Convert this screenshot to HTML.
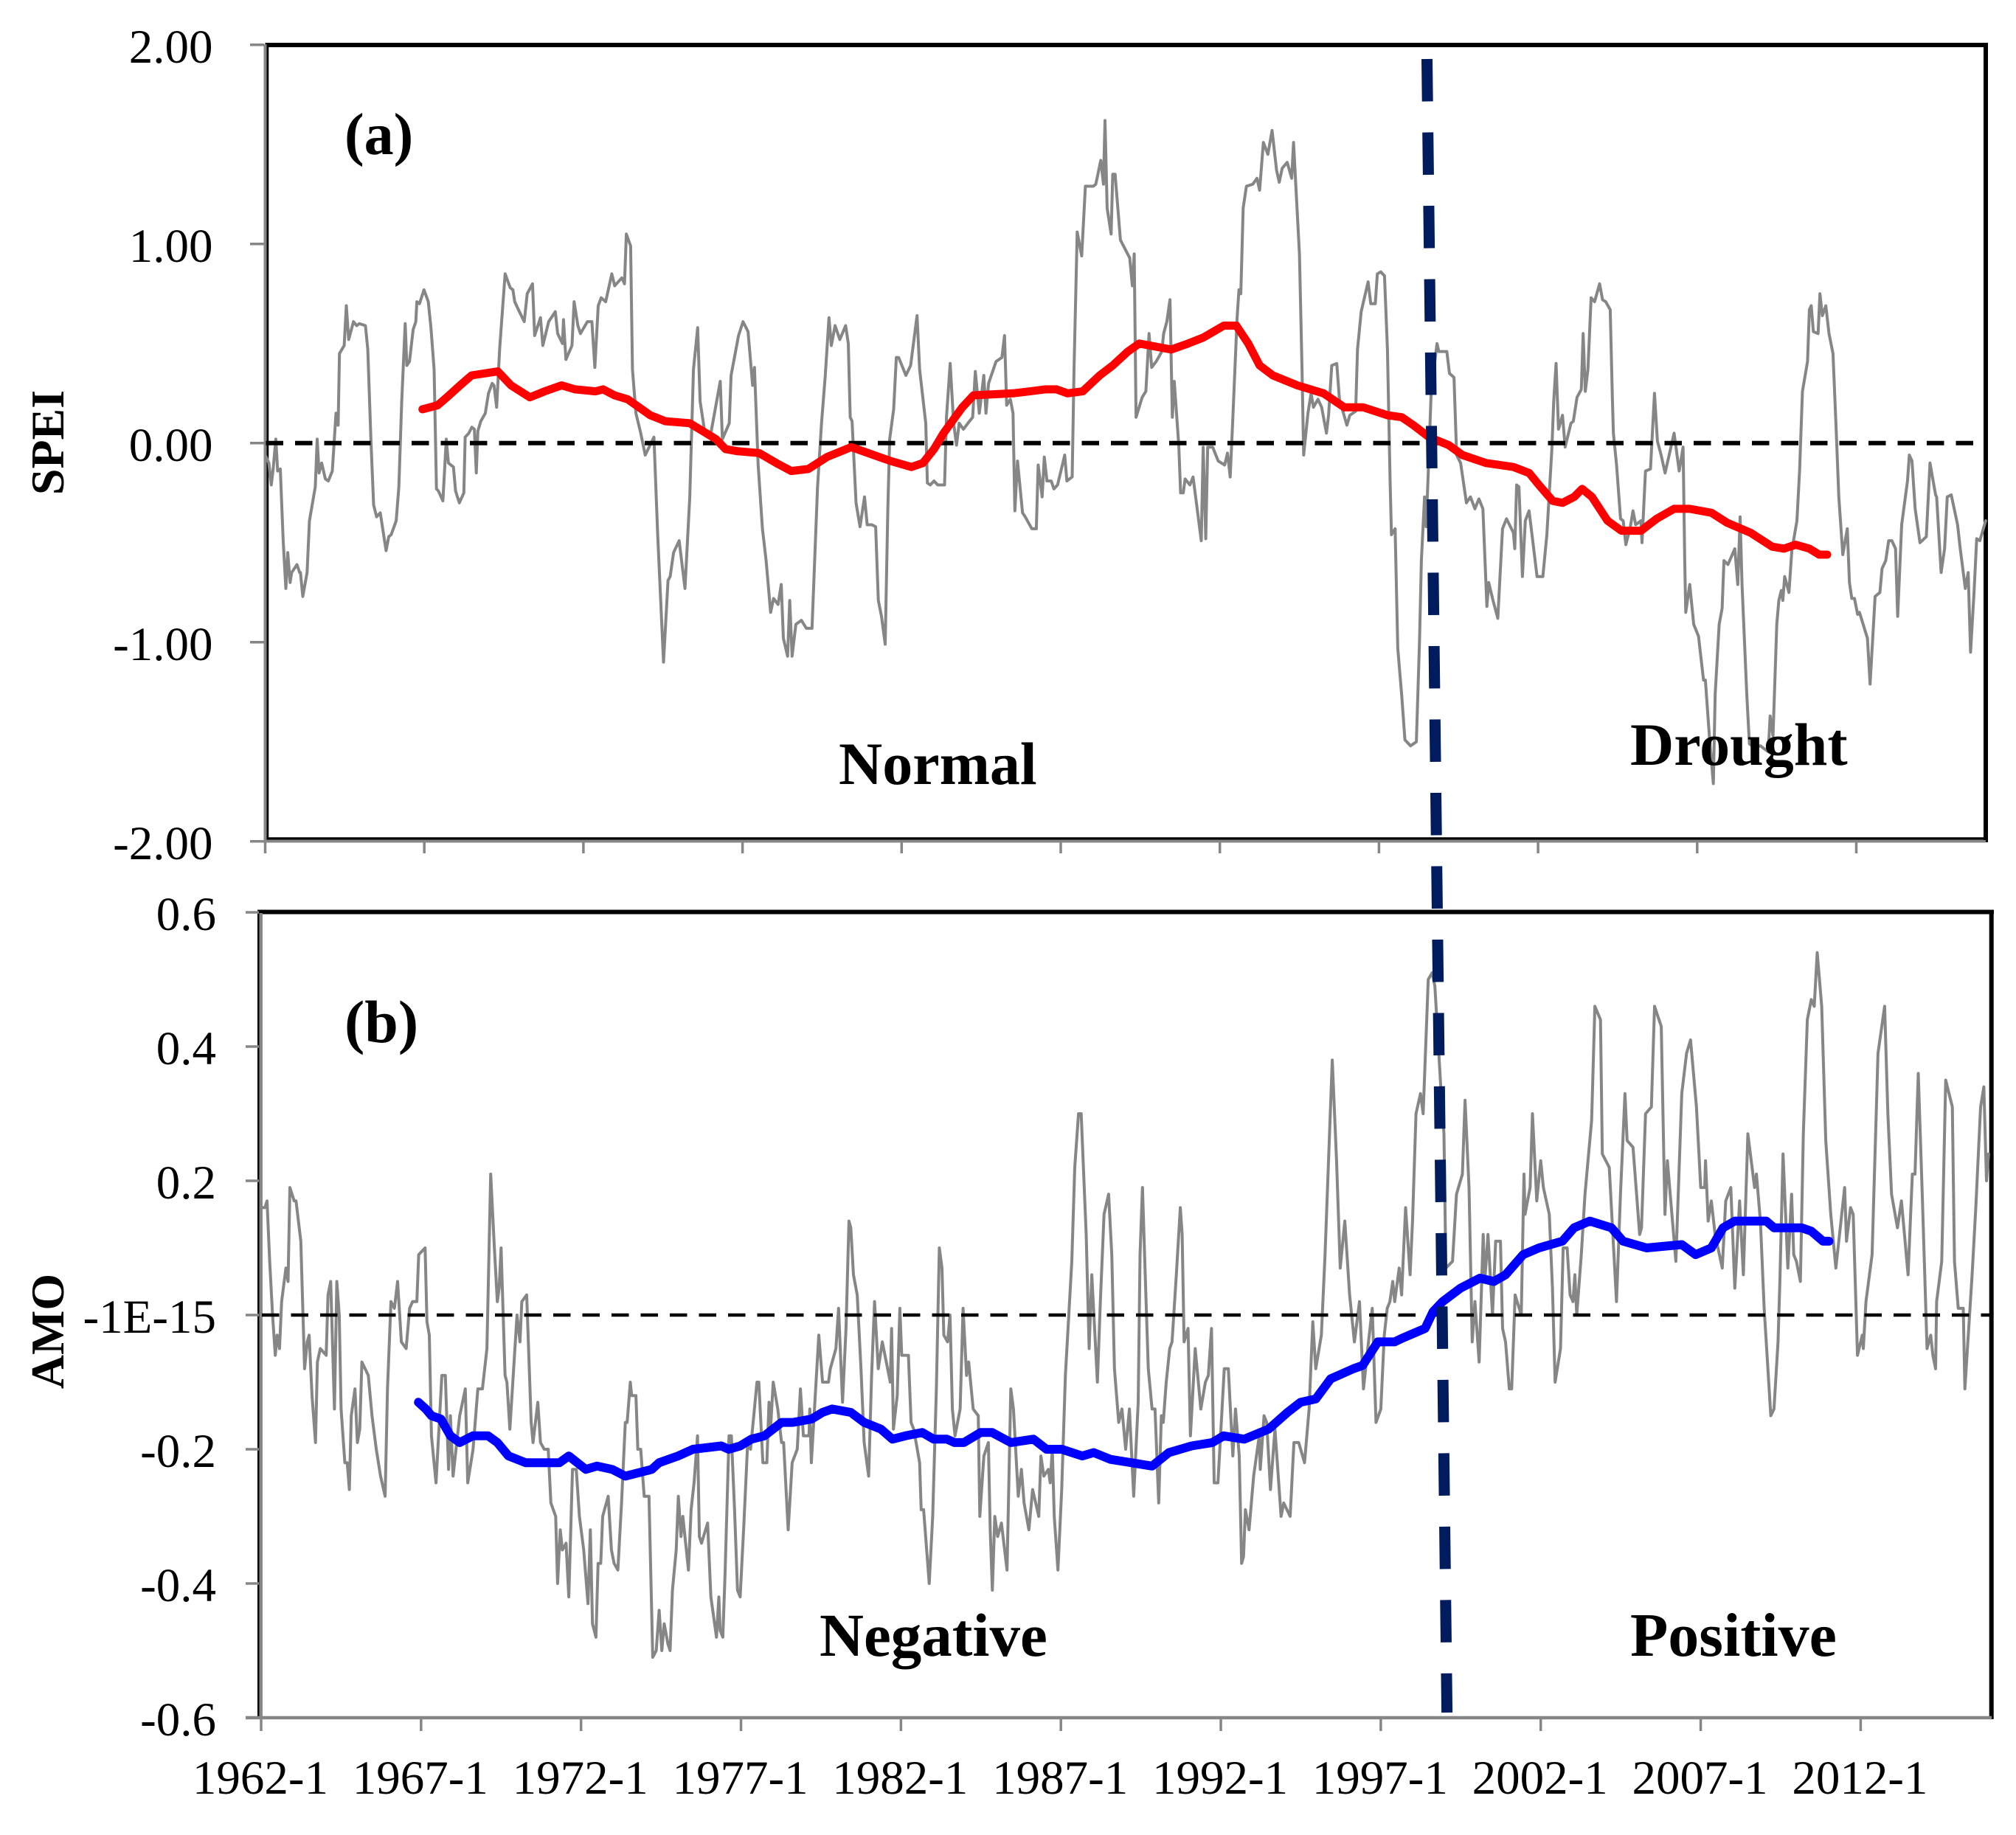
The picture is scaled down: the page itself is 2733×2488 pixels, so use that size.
<!DOCTYPE html>
<html lang="en">
<head>
<meta charset="utf-8">
<title>SPEI and AMO time series</title>
<style>
html,body{margin:0;padding:0;background:#fff}
svg{display:block}
text{font-family:"Liberation Serif",serif;fill:#000}
</style>
</head>
<body>
<svg id="chart" xmlns="http://www.w3.org/2000/svg" width="2733" height="2488" viewBox="0 0 2733 2488">
<rect x="0" y="0" width="2733" height="2488" fill="#fff"/>
<g id="panelA"></g>
<g id="panelB"></g>
<line x1="1934.5" y1="80" x2="1961.6" y2="2322" stroke="#001c5e" stroke-width="15" stroke-dasharray="57.5 42"/>
<text x="467" y="209" font-size="80" font-weight="bold">(a)</text>
<text x="467" y="1413" font-size="82" font-weight="bold">(b)</text>
<text x="1137" y="1063" font-size="82" font-weight="bold">Normal</text>
<text x="2210" y="1037" font-size="82" font-weight="bold">Drought</text>
<text x="1111" y="2245" font-size="83" font-weight="bold">Negative</text>
<text x="2210" y="2245" font-size="84" font-weight="bold">Positive</text>
<text transform="translate(86,600) rotate(-90)" text-anchor="middle" font-size="64" font-weight="bold">SPEI</text>
<text transform="translate(86,1805) rotate(-90)" text-anchor="middle" font-size="64" font-weight="bold">AMO</text>
</svg>
<script>
var xTickYears = [1962,1967,1972,1977,1982,1987,1992,1997,2002,2007,2012];
var xTickLabels = ["1962-1","1967-1","1972-1","1977-1","1982-1","1987-1","1992-1","1997-1","2002-1","2007-1","2012-1"];
var speiTickValues = [2,1,0,-1,-2];
var speiTickLabels = ["2.00","1.00","0.00","-1.00","-2.00"];
var amoTickValues = [0.6,0.4,0.2,0,-0.2,-0.4,-0.6];
var amoTickLabels = ["0.6","0.4","0.2","-1E-15","-0.2","-0.4","-0.6"];

var speiMonths = [0,1.4,2.3,3,4,4.7,5.7,6.8,7.8,8.5,9.4,10,12,13,13.3,14.2,15.8,16.7,18.9,19.6,20.3,21.3,22.7,23.8,25.3,26.7,27.5,28,29.8,30.6,31.5,33.3,34.5,35.5,37.8,38.7,39.9,40.9,42,43.4,45.6,46.6,47.5,49.4,50.4,51.5,52.8,53.4,54.4,55.8,56.8,57.2,58.2,59.9,61.5,62.5,63.7,64.6,65.3,67,68.3,69.1,71,71.8,73.2,74.9,75.4,76.8,77.9,78.9,79.6,80.2,81.3,83,84.2,85.6,86.3,87.3,88.4,89.6,90.5,92.4,93.4,94.1,95.5,97.7,98.8,100.8,101.6,103.8,104.7,106.9,109.4,110.3,112.1,112.5,113.4,115.7,116.5,117.9,118.9,121.5,123.2,124.3,125.6,126.7,128.4,130.7,131.8,134.5,135.5,136.2,137.8,138.5,139.8,141.6,143.3,146.6,148,150.2,151.9,152.7,154,156.1,158.3,160.1,161.5,163.1,164,165.8,168.2,171.6,172.4,175,175.7,178.5,180.2,182.1,183.8,184.5,185.9,187.5,188.9,190.6,191.7,193.4,194.6,195.4,197,197.8,198.7,200.1,202.2,204.1,206.2,207.2,208.3,209.8,211.2,212.6,213.5,214.9,216.7,218.9,219.9,220.6,221.3,222.8,224.3,226,227,228.8,230.2,231.2,232.4,233.8,234.8,235.5,237,238,238.9,241.6,243.4,245.8,246.8,249.1,249.7,250.8,252.2,253.6,256.2,256.9,258.3,259.6,260.7,261.7,263.3,265,266.8,267.8,269.3,271,271.8,272.8,275.6,277.8,278.8,279.6,281,282,282.7,283.7,285.6,286.6,289.1,290.8,291.5,293,293.8,294.8,296.4,297.4,298.8,301.5,302.3,304.3,305,306.2,307.9,309.3,312.3,313.2,315.1,316.1,316.7,317.5,319,319.6,320.5,322.5,326,327,327.7,328.4,330.7,332.1,333.3,334.3,336,338.1,338.8,340,341.2,342.1,342.8,344.5,345.2,346.2,346.9,348.7,349.9,353,353.7,354.7,355.4,357.3,359.4,361.8,362.9,363.9,364.8,366.5,367.2,367.9,368.8,370,372.4,374,375,376.4,378.1,379.7,381.4,382.4,383.5,385.4,387.1,387.8,390,391,391.6,393.2,394.4,395.3,397,398.4,400.2,401,402.2,404.1,405.1,407.9,409,411.2,411.9,413.3,415.9,416.9,418.6,419.4,420.7,422.1,423.2,424.2,424.7,426.1,427.1,428.6,429.8,431.9,434.1,435.3,436,437.2,437.8,438.6,439.7,441.9,442.6,445.6,446.6,448.3,449.3,450.8,453,454.5,456.2,457.7,459.2,460.7,461.4,463,464.8,466.6,468.1,470.7,471.2,471.9,472.8,474.1,475.2,476.6,477.8,479.6,481.8,483.3,485.2,485.9,486.8,487.7,489.2,490.2,492.4,493.3,494.7,496.3,497,497.8,498.8,500,501.3,503.2,504.3,505.5,507.2,508,508.4,509.6,511.1,512.1,513.1,514.8,515.8,516.8,518.8,519.2,520.5,522.4,523.9,525,526.4,527.9,531.3,533.2,534.7,535.3,535.7,537.2,538.7,540.5,542.4,543.1,544.6,546.1,546.8,548.3,549.4,550.1,551.6,554.2,555.3,556.2,556.9,558.7,559.7,561.6,563.8,566.8,567.5,568.6,570,570.8,571.7,572.3,573,574.6,575.7,577.6,578.6,579.7,581.6,582.3,583,583.8,585.6,586.3,587.2,588.5,589.7,591.2,592.4,593.4,594.9,596.6,597.4,598.3,599.3,600.5,601.2,604.2,605.2,607.1,608.9,609.7,611.1,612.2,613.4,614.8,615.6,617.1,619.3,620,621,622.2,624,626.4,627.8,629.9,630.3,632,633.3,634.3,635.8,638.2,639.2,641.1,642.2,643.1,644.4,645.4,646.6,648.8];
var speiValues = [-0.06,-0.10,-0.21,-0.13,0.02,-0.14,-0.13,-0.49,-0.73,-0.55,-0.70,-0.65,-0.61,-0.65,-0.65,-0.77,-0.65,-0.39,-0.22,0.02,-0.15,-0.10,-0.18,-0.19,-0.14,0.15,0.09,0.45,0.49,0.69,0.52,0.61,0.59,0.60,0.59,0.47,0.01,-0.31,-0.37,-0.35,-0.54,-0.47,-0.46,-0.39,-0.22,0.21,0.60,0.39,0.41,0.57,0.61,0.71,0.70,0.77,0.71,0.58,0.37,-0.23,-0.24,-0.29,0.02,-0.10,-0.12,-0.24,-0.30,-0.25,0.03,0.05,0.08,0.07,-0.15,0.06,0.11,0.15,0.25,0.30,0.29,0.18,0.47,0.69,0.85,0.78,0.77,0.71,0.67,0.61,0.75,0.80,0.54,0.63,0.49,0.61,0.66,0.55,0.50,0.62,0.42,0.49,0.71,0.59,0.55,0.61,0.61,0.38,0.69,0.73,0.71,0.85,0.79,0.83,0.80,1.05,0.99,0.37,0.15,0.05,-0.06,0.03,-0.46,-1.10,-0.69,-0.67,-0.55,-0.49,-0.73,-0.27,0.37,0.58,0.21,0.05,0.06,0.31,0.02,0.10,0.34,0.54,0.61,0.56,0.29,0.38,-0.11,-0.43,-0.59,-0.85,-0.78,-0.81,-0.71,-0.98,-1.07,-0.79,-1.07,-0.91,-0.89,-0.93,-0.93,-0.59,-0.22,0.10,0.34,0.63,0.49,0.59,0.52,0.59,0.50,0.13,0.11,-0.30,-0.42,-0.27,-0.41,-0.41,-0.42,-0.79,-0.87,-1.01,-0.33,0.02,0.17,0.43,0.43,0.34,0.39,0.64,0.37,0.10,-0.20,-0.21,-0.19,-0.21,-0.21,0.13,0.40,0.10,-0.01,0.10,0.07,0.10,0.13,0.36,0.15,0.34,0.15,0.30,0.41,0.43,0.54,0.19,0.22,0.15,-0.34,-0.09,-0.35,-0.37,-0.43,-0.43,-0.11,-0.27,-0.07,-0.19,-0.19,-0.23,-0.21,-0.06,-0.19,-0.17,0.37,1.06,0.94,1.29,1.29,1.30,1.42,1.30,1.62,1.18,1.05,1.35,1.35,1.02,0.93,0.79,0.95,0.13,0.23,0.26,0.55,0.38,0.41,0.46,0.55,0.61,0.72,0.13,0.31,-0.01,-0.25,-0.25,-0.18,-0.21,-0.17,-0.49,-0.02,-0.48,-0.02,-0.02,-0.09,-0.11,-0.05,-0.17,0.10,0.63,0.77,0.75,1.18,1.29,1.30,1.33,1.27,1.51,1.45,1.57,1.37,1.31,1.38,1.41,1.33,1.51,0.95,0.37,-0.06,0.15,0.25,0.18,0.22,0.18,0.05,0.14,0.39,0.40,0.22,0.09,0.14,0.16,0.47,0.66,0.81,0.70,0.70,0.85,0.86,0.84,0.47,-0.19,-0.46,-0.43,-1.03,-1.27,-1.49,-1.52,-1.50,-0.99,-0.59,-0.27,-0.42,-0.14,0.26,0.50,0.46,0.46,0.35,0.33,-0.06,-0.10,-0.30,-0.27,-0.33,-0.28,-0.33,-0.82,-0.70,-0.79,-0.88,-0.43,-0.38,-0.45,-0.53,-0.21,-0.22,-0.67,-0.39,-0.34,-0.47,-0.67,-0.67,-0.46,-0.03,0.21,0.40,0.07,0.14,-0.02,0.10,0.11,0.23,0.27,0.55,0.26,0.37,0.73,0.71,0.80,0.72,0.71,0.67,0.23,0.05,-0.11,-0.38,-0.39,-0.51,-0.42,-0.34,-0.41,-0.39,-0.50,-0.14,-0.13,0.25,0.01,-0.06,-0.15,0.05,-0.14,-0.02,-0.59,-0.85,-0.71,-0.91,-0.97,-1.19,-1.19,-1.47,-1.71,-1.26,-0.91,-0.83,-0.59,-0.61,-0.53,-0.71,-0.37,-0.71,-1.26,-1.51,-1.53,-1.52,-1.55,-1.37,-1.47,-0.91,-0.79,-0.74,-0.79,-0.67,-0.75,-0.54,-0.39,-0.14,0.26,0.41,0.67,0.69,0.56,0.55,0.75,0.64,0.69,0.55,0.45,0.07,-0.27,-0.56,-0.43,-0.70,-0.78,-0.78,-0.86,-0.85,-0.98,-1.21,-0.77,-0.75,-0.63,-0.59,-0.49,-0.49,-0.53,-0.87,-0.41,-0.19,-0.06,-0.09,-0.33,-0.50,-0.47,-0.10,-0.26,-0.27,-0.65,-0.53,-0.27,-0.26,-0.41,-0.53,-0.73,-0.65,-1.05,-0.75,-0.48,-0.49,-0.39];

var speiSmoothMonths = [59.3,65,68.5,73.5,77.8,82.7,87.7,92.7,99.8,105.4,111.8,116.8,124.6,127.4,131.7,136.7,145.2,150.9,160.1,170,173.6,177.8,186.3,192.7,198.4,204.8,211.8,221,231.6,235.9,243.7,248,252.2,255.8,262.9,267.1,282,288.4,294.1,298.4,302.6,308.3,314.7,319.6,325.3,329.6,341.6,348,353.7,361.5,366.2,370.7,375,380,389.2,399.1,406.9,414,423.2,428.6,433,438.9,446.3,451.5,460.4,470.7,476.6,480.3,485.5,489.2,493.6,496.6,500.3,506.2,511.4,518.8,524.7,531.3,537.2,545.4,551.3,560.1,568.3,572.7,577.1,582.3,586,589];
var speiSmoothValues = [0.17,0.19,0.23,0.29,0.34,0.35,0.36,0.29,0.23,0.26,0.29,0.27,0.26,0.27,0.24,0.22,0.14,0.11,0.10,0.02,-0.03,-0.04,-0.05,-0.10,-0.14,-0.13,-0.07,-0.02,-0.07,-0.09,-0.12,-0.10,-0.03,0.05,0.18,0.24,0.25,0.26,0.27,0.27,0.25,0.26,0.34,0.39,0.46,0.50,0.47,0.50,0.53,0.59,0.59,0.50,0.39,0.34,0.29,0.25,0.18,0.18,0.14,0.13,0.09,0.03,-0.01,-0.06,-0.10,-0.12,-0.15,-0.21,-0.29,-0.30,-0.27,-0.23,-0.27,-0.39,-0.44,-0.44,-0.38,-0.33,-0.33,-0.35,-0.40,-0.45,-0.52,-0.53,-0.51,-0.53,-0.56,-0.56];

var amoMonths = [0,1.4,2.2,3.2,4.3,5.3,6,6.9,7.7,9.3,10.1,10.8,12.4,13.1,14.9,16.3,17.3,18,19.1,20.4,21.1,22.2,24.4,25.1,26.1,27.5,28.4,29.3,30,31.4,32.3,33.1,33.8,35.2,36.1,37,37.8,40.2,41.6,43.2,44.8,46.5,47.4,48.7,50,51.2,52.6,54.4,55.7,56.8,58.4,59.1,61.5,62.2,63.1,63.9,65.6,67.8,69.1,70.3,71,72,74.5,76.6,77.5,79.5,81.3,83,84.7,86.1,87.5,88.6,89.3,90,91.5,92.2,93.3,96,97.1,97.8,99.6,101.3,102,103.8,104.8,106.2,107.7,108.7,110.5,111.2,112.2,113,114.4,115.4,116.8,118.2,119.4,121,122.6,123.5,124.3,125.6,126.4,127.4,128.1,130.2,131.4,132.4,133.8,135.2,136.6,137.3,138.5,139,140.6,141.3,142.4,143.7,145.5,146.9,148.2,149.3,150.3,151.2,152.6,153.4,154.3,155.7,156.5,157.5,158.2,160.3,161.3,162.4,163.7,164.4,165.2,167.5,168.7,170.8,171.7,172.2,173.2,174,175.5,176.4,177.6,178.7,179.7,181.1,182.5,183.6,186,186.7,188.2,189.7,190.5,191.1,192.1,193.8,195.2,196,197.7,199.2,201.1,202.3,203.4,205.5,205.8,206.4,209.2,210.6,212.8,213.5,215.6,216.6,218.1,219.4,220.5,221.2,222.2,223.6,225,226.2,227.9,229,230.1,231.5,233,236,236.5,237.2,238.6,239.6,240.3,242.8,243.8,244.8,247,247.6,248.5,250.6,251.9,253.3,254.4,255.4,256.1,257.5,258.4,259.3,260.3,262.2,263.3,264.6,265.4,267.1,269,269.6,271.1,272.8,273.5,274.3,275.2,276.3,277.7,279.8,281.2,282.2,284,285.2,286.2,288,289.4,291.7,292.5,293.6,295.3,296,296.8,297.5,298.9,300.3,301.7,304.1,305.2,306.6,307.6,309.5,310.6,311.6,313.7,314.8,316.2,317.9,319.1,320.1,321.7,322.9,324.3,325.7,327.3,329,329.7,330.6,331.8,332.8,334.2,335.3,336.7,337.7,338.4,339.5,340.8,341.7,343.3,344.8,345.5,346.2,347.7,348.6,350.4,352.5,354.2,355.3,356.5,357.5,358.9,361.3,362.8,364.5,365.5,366.9,367.8,368.5,369.2,370.6,372.3,374.4,374.8,376.2,377.2,378.6,380.3,382.6,383.6,386,387.4,389.2,391.4,393.1,394.5,395.6,397.7,399.1,401.8,403.4,404.8,406.5,408.3,410.1,412,413.5,415.1,416.8,418.2,420,421.3,422.4,423.4,424.5,425.2,426.9,427.8,429.3,431,431.9,433.2,434.9,435.9,437.8,439.3,440.3,442.5,443.7,444.4,446.9,448.4,450.6,451.6,453.1,454.3,455.3,456.9,458.4,459,460.2,461.9,463.1,464.9,465.7,466.8,468.2,469.1,470.4,472.7,473.7,474.1,476,476.9,478.5,480,481,483.2,484.4,485.4,487.4,488.4,489.9,491,492.1,492.8,493.5,495.2,496.6,499.1,500.3,502.4,503.1,505.7,508.4,509.9,511.6,512.4,514.6,517.1,517.8,519.3,521.5,522.7,525.2,526.6,527.5,530.7,532.9,534.7,536.2,538.4,540,541.5,541.8,542.8,544,545.4,548.1,549.4,551.3,552.8,554.6,556,557.7,560.2,560.9,562.4,563.8,566.3,567.5,569,569.7,570.9,572.7,574.1,574.9,575.9,577.4,578.5,580,581.5,582.6,583.7,585.4,586.9,588.8,590.7,594,594.7,596.2,597.2,598.8,600.6,601,602,604.3,606.5,609,610.2,611.6,613.8,615.3,617.8,619.4,620.4,621.6,623.1,624.9,626.3,627.1,628.1,628.5,630.4,631.9,634.4,635.2,636.6,638.5,639.1,641.8,643.2,645,646.2,647.2,648];
var amoValues = [0.16,0.16,0.17,0.08,0.00,-0.06,-0.03,-0.05,0.02,0.07,0.05,0.19,0.17,0.17,0.11,-0.08,-0.04,-0.03,-0.12,-0.19,-0.07,-0.05,-0.06,0.03,0.05,-0.14,0.05,0.00,-0.14,-0.22,-0.22,-0.26,-0.15,-0.11,-0.19,-0.17,-0.07,-0.09,-0.15,-0.20,-0.24,-0.27,-0.11,0.02,0.01,0.05,-0.04,-0.05,0.01,0.02,0.02,0.09,0.10,-0.01,-0.03,-0.18,-0.25,-0.09,-0.09,-0.23,-0.15,-0.24,-0.15,-0.11,-0.25,-0.20,-0.11,-0.11,-0.05,0.21,0.10,0.02,0.04,0.10,-0.09,-0.10,-0.17,0.00,-0.04,0.02,0.03,-0.16,-0.19,-0.13,-0.19,-0.20,-0.20,-0.28,-0.30,-0.40,-0.32,-0.35,-0.34,-0.42,-0.23,-0.23,-0.30,-0.35,-0.43,-0.32,-0.46,-0.48,-0.37,-0.37,-0.30,-0.27,-0.35,-0.37,-0.38,-0.28,-0.16,-0.16,-0.10,-0.12,-0.12,-0.20,-0.20,-0.27,-0.27,-0.51,-0.50,-0.44,-0.50,-0.46,-0.49,-0.50,-0.41,-0.35,-0.27,-0.33,-0.30,-0.38,-0.29,-0.25,-0.18,-0.33,-0.34,-0.31,-0.42,-0.48,-0.42,-0.47,-0.48,-0.39,-0.18,-0.18,-0.29,-0.41,-0.42,-0.31,-0.19,-0.20,-0.10,-0.10,-0.22,-0.22,-0.13,-0.17,-0.10,-0.14,-0.19,-0.19,-0.32,-0.22,-0.20,-0.11,-0.18,-0.18,-0.14,-0.22,-0.03,-0.10,-0.10,-0.08,-0.05,0.01,-0.13,-0.02,0.14,0.13,0.06,0.03,-0.08,-0.19,-0.24,-0.09,0.02,-0.08,-0.04,-0.10,-0.02,-0.17,-0.12,0.01,-0.06,-0.06,-0.16,-0.17,-0.22,-0.29,-0.29,-0.40,-0.30,-0.11,0.10,0.07,-0.03,-0.04,0.00,-0.14,-0.18,-0.14,0.01,-0.09,-0.07,-0.14,-0.15,-0.30,-0.21,-0.19,-0.32,-0.41,-0.30,-0.33,-0.31,-0.38,-0.11,-0.14,-0.27,-0.23,-0.28,-0.32,-0.26,-0.30,-0.21,-0.24,-0.23,-0.25,-0.20,-0.30,-0.38,-0.26,-0.09,0.08,0.22,0.30,0.30,0.12,-0.05,0.06,-0.10,0.02,0.15,0.18,0.09,-0.08,-0.16,-0.14,-0.20,-0.14,-0.27,-0.13,0.09,0.19,0.04,-0.08,-0.14,-0.14,-0.28,-0.15,-0.16,-0.10,-0.05,-0.04,0.06,0.16,0.12,-0.04,-0.02,-0.18,-0.05,-0.14,-0.10,-0.09,-0.02,-0.25,-0.25,-0.08,-0.08,-0.21,-0.14,-0.21,-0.37,-0.36,-0.29,-0.32,-0.24,-0.18,-0.23,-0.15,-0.16,-0.26,-0.17,-0.30,-0.28,-0.30,-0.19,-0.19,-0.22,-0.14,-0.01,-0.08,-0.03,0.09,0.38,0.23,0.07,0.14,0.03,-0.04,0.02,-0.11,-0.05,0.01,-0.16,-0.14,-0.03,0.01,0.02,0.05,0.02,0.07,0.03,0.16,0.06,0.14,0.30,0.33,0.30,0.50,0.51,0.49,0.34,0.27,0.07,0.08,0.18,0.21,0.32,0.19,-0.04,0.02,-0.07,0.12,0.05,0.12,0.00,0.11,0.11,-0.02,-0.04,-0.11,-0.11,0.03,0.00,0.21,0.15,0.19,0.30,0.17,0.23,0.19,0.15,0.04,-0.10,-0.05,0.10,0.10,0.03,0.02,0.06,0.00,0.09,0.18,0.29,0.46,0.44,0.24,0.22,0.02,0.18,0.33,0.26,0.25,0.12,0.13,0.30,0.31,0.46,0.43,0.15,0.23,0.08,0.33,0.39,0.41,0.31,0.19,0.19,0.23,0.14,0.17,0.12,0.07,0.17,0.19,0.04,0.17,0.06,0.27,0.19,0.21,0.14,0.01,-0.15,-0.14,-0.04,0.05,0.24,0.07,0.18,0.09,0.08,0.05,0.27,0.44,0.47,0.46,0.54,0.46,0.26,0.15,0.07,0.19,0.11,0.16,0.15,-0.06,-0.03,-0.05,0.02,0.09,0.39,0.46,0.30,0.18,0.13,0.17,0.06,0.21,0.21,0.36,0.18,-0.05,-0.03,-0.06,-0.08,0.02,0.08,0.35,0.31,0.08,0.01,0.01,-0.11,0.06,0.16,0.31,0.34,0.20,0.24];

var amoSmoothMonths = [59,61.8,63.9,67.4,71,74.5,79.4,85.1,88.6,92.8,99.2,104.1,111.9,115.4,121.8,126,131.7,136.6,146.5,149.3,156.4,162,172.6,175.4,179.7,183.9,188.8,195.2,199.4,206.5,210.6,214.2,221.2,226.2,232.5,236.8,241.7,248,252.3,257.2,260.1,263.6,269.9,274.2,281.2,289.7,294.6,300.3,308,312.3,318.6,326.4,334.2,340.5,349,356.8,361,368.8,377.9,385,389.9,395.6,401.2,409.7,413.2,418.9,425.2,427.8,436.6,439.6,443.2,449.9,457.2,462.4,466.8,473.4,479.3,488.1,492.5,498.4,506.5,510.9,519.7,532.9,538.1,544,548.4,552.8,564.6,567.5,577.8,581.5,585.9,588.1];
var amoSmoothValues = [-0.13,-0.14,-0.15,-0.155,-0.18,-0.19,-0.18,-0.18,-0.19,-0.21,-0.22,-0.22,-0.22,-0.21,-0.23,-0.225,-0.23,-0.24,-0.23,-0.22,-0.21,-0.20,-0.195,-0.20,-0.195,-0.185,-0.18,-0.16,-0.16,-0.155,-0.145,-0.14,-0.145,-0.16,-0.17,-0.185,-0.18,-0.175,-0.185,-0.185,-0.19,-0.19,-0.175,-0.175,-0.19,-0.185,-0.20,-0.20,-0.21,-0.205,-0.215,-0.22,-0.225,-0.205,-0.195,-0.19,-0.18,-0.185,-0.17,-0.145,-0.13,-0.125,-0.095,-0.08,-0.075,-0.04,-0.04,-0.035,-0.02,0.005,0.02,0.04,0.055,0.05,0.06,0.09,0.10,0.11,0.13,0.14,0.13,0.11,0.10,0.105,0.09,0.10,0.13,0.14,0.14,0.13,0.13,0.125,0.11,0.11];

var SVGNS = 'http://www.w3.org/2000/svg';
var panelAGroup = document.getElementById('panelA');
var panelBGroup = document.getElementById('panelB');

function xA(m){ return 359.5 + 3.595 * m; }
function yA(v){ return 600.8 - 270 * v; }
function xB(m){ return 354 + 3.614 * m; }
function yB(v){ return 1783 - 910 * v; }
function monthOfYear(y){ return (y - 1962) * 12; }

function pathFrom(months, values, xf, yf){
  var d = '';
  for (var i = 0; i < months.length; i++){
    d += (i ? 'L' : 'M') + xf(months[i]).toFixed(1) + ' ' + yf(values[i]).toFixed(1);
  }
  return d;
}
function seriesPath(parent, d, color, width, name){
  var p = document.createElementNS(SVGNS, 'path');
  p.setAttribute('d', d);
  p.setAttribute('fill', 'none');
  p.setAttribute('stroke', color);
  p.setAttribute('stroke-width', width);
  p.setAttribute('stroke-linejoin', 'round');
  p.setAttribute('stroke-linecap', 'round');
  
  
  parent.appendChild(p);
}
function rule(parent, x1, y1, x2, y2, color, width, name, dash){
  var l = document.createElementNS(SVGNS, 'line');
  l.setAttribute('x1', x1);
  l.setAttribute('y1', y1);
  l.setAttribute('x2', x2);
  l.setAttribute('y2', y2);
  l.setAttribute('stroke', color);
  l.setAttribute('stroke-width', width);
  if (dash) l.setAttribute('stroke-dasharray', dash);
  
  
  parent.appendChild(l);
}
function label(parent, x, y, str, anchor, name){
  var t = document.createElementNS(SVGNS, 'text');
  t.setAttribute('x', x);
  t.setAttribute('y', y);
  t.setAttribute('font-size', '65');
  t.setAttribute('text-anchor', anchor);
  t.textContent = str;
  
  
  parent.appendChild(t);
}

var GRAY = '#868686';

/* panel (a) */
rule(panelAGroup, 359.5, 61, 2695, 61, '#000', 6, 'panel-a-top-border');
rule(panelAGroup, 2692, 58, 2692, 1142, '#000', 6, 'panel-a-right-border');
rule(panelAGroup, 362.5, 59, 362.5, 1138, '#000', 3.5, 'panel-a-left-border');
rule(panelAGroup, 361, 1137, 2692, 1137, '#000', 3.5, 'panel-a-bottom-border');
rule(panelAGroup, 359.5, 60, 359.5, 1142, GRAY, 4, 'panel-a-y-axis');
rule(panelAGroup, 339, 1140.7, 2692, 1140.7, GRAY, 3.5, 'panel-a-x-axis');
speiTickValues.forEach(function(v, i){
  rule(panelAGroup, 339, yA(v), 358, yA(v), GRAY, 3.5, 'panel-a-y-tick');
  label(panelAGroup, 288.5, yA(v) + 24, speiTickLabels[i], 'end', 'panel-a-y-tick-label');
});
xTickYears.forEach(function(y){
  rule(panelAGroup, xA(monthOfYear(y)), 1140, xA(monthOfYear(y)), 1157, GRAY, 3.5, 'panel-a-x-tick');
});
seriesPath(panelAGroup, pathFrom(speiMonths, speiValues, xA, yA), GRAY, 4, 'spei-monthly-line');
rule(panelAGroup, xA(0) + 1, yA(0), 2692, yA(0), '#000', 6, 'panel-a-zero-line', '23.5 16');
seriesPath(panelAGroup, pathFrom(speiSmoothMonths, speiSmoothValues, xA, yA), '#ff0000', 11, 'spei-moving-average-line');

/* panel (b) */
rule(panelBGroup, 349, 1236.5, 2703, 1236.5, '#000', 6, 'panel-b-top-border');
rule(panelBGroup, 2699.7, 1234, 2699.7, 2331, '#000', 6, 'panel-b-right-border');
rule(panelBGroup, 350.3, 1234, 350.3, 2330, '#000', 2.6, 'panel-b-left-border');
rule(panelBGroup, 353.7, 1238, 353.7, 2331, GRAY, 4.5, 'panel-b-y-axis');
rule(panelBGroup, 333, 2329, 2700, 2329, GRAY, 4.5, 'panel-b-x-axis');
amoTickValues.forEach(function(v, i){
  rule(panelBGroup, 333, yB(v), 351, yB(v), GRAY, 3.5, 'panel-b-y-tick');
  label(panelBGroup, 293, yB(v) + 24, amoTickLabels[i], 'end', 'panel-b-y-tick-label');
});
xTickYears.forEach(function(y, i){
  rule(panelBGroup, xB(monthOfYear(y)), 2329, xB(monthOfYear(y)), 2347, GRAY, 3.5, 'panel-b-x-tick');
  label(panelBGroup, xB(monthOfYear(y)) - 1, 2432, xTickLabels[i], 'middle', 'x-tick-label');
});
seriesPath(panelBGroup, pathFrom(amoMonths, amoValues, xB, yB), GRAY, 4, 'amo-monthly-line');
rule(panelBGroup, 355, yB(0), 2698, yB(0), '#000', 4.5, 'panel-b-zero-line', '23.5 16');
seriesPath(panelBGroup, pathFrom(amoSmoothMonths, amoSmoothValues, xB, yB), '#0000ff', 12, 'amo-moving-average-line');
</script>
</body>
</html>
